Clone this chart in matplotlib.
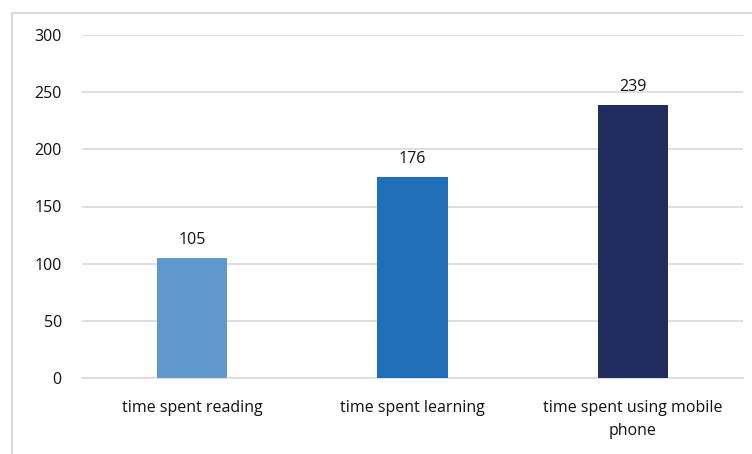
import matplotlib.pyplot as plt
from matplotlib.lines import Line2D

categories = ['time spent reading', 'time spent learning', 'time spent using mobile\nphone']
values = [105, 176, 239]
colors = ['#5E98CC', '#1E6FB8', '#202D5E']
yticks = [0, 50, 100, 150, 200, 250, 300]

plt.rcParams['font.family'] = ['Open Sans', 'DejaVu Sans']

fig = plt.figure(figsize=(7.52, 4.54), dpi=100)
ax = fig.add_axes([82 / 752, 1 - 378 / 454, 661 / 752, 343 / 454])

x = range(len(categories))
bars = ax.bar(x, values, width=0.32, color=colors, zorder=3)

for bar, v in zip(bars, values):
    ax.annotate(str(v), (bar.get_x() + bar.get_width() / 2, v),
                xytext=(0, 7), textcoords='offset points',
                ha='center', va='bottom', fontsize=11.5, color='#111111')

ax.set_xlim(-0.5, len(categories) - 0.5)
ax.set_ylim(0, 300)
ax.set_yticks(yticks)
ax.set_xticks(list(x))
ax.set_xticklabels(categories, fontsize=11.5, color='#111111', linespacing=1.6)
ax.tick_params(axis='y', labelsize=11.5, labelcolor='#111111', pad=11)
ax.tick_params(axis='x', pad=12)
ax.tick_params(left=False, bottom=False)
ax.yaxis.grid(True, color='#d9d9d9', linewidth=1.2, zorder=0)

for name, spine in ax.spines.items():
    spine.set_visible(name == 'bottom')
ax.spines['bottom'].set_color('#d9d9d9')
ax.spines['bottom'].set_linewidth(1.2)

# outer chart frame (only left and top visible)
fig.add_artist(Line2D([11.5 / 752, 11.5 / 752], [0, 1 - 12.5 / 454],
                      transform=fig.transFigure, color='#d9d9d9', linewidth=1.5))
fig.add_artist(Line2D([11.5 / 752, 1], [1 - 12.5 / 454, 1 - 12.5 / 454],
                      transform=fig.transFigure, color='#d9d9d9', linewidth=1.5))

fig.savefig('out.png', dpi=100)
